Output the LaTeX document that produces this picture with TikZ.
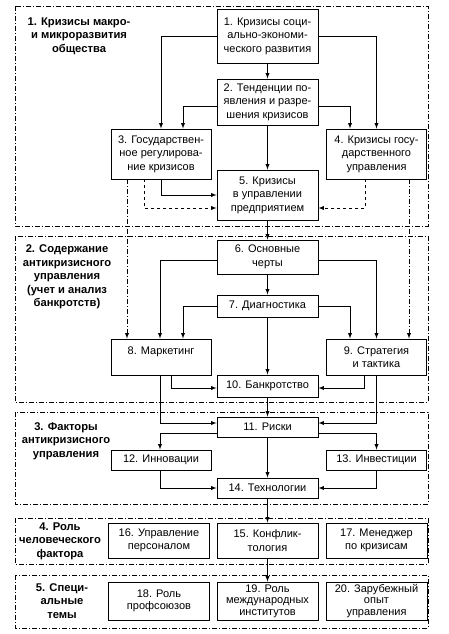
\documentclass[tikz,border=0pt]{standalone}
\usepackage{fontspec}
\setmainfont{Liberation Sans}
\usetikzlibrary{shapes, arrows, positioning}

\tikzset{
  box/.style={rectangle, draw, line width=0.9pt, align=center, inner sep=1pt,
    font=\fontsize{11}{13.5}\selectfont},
  sect/.style={line width=0.7pt, dash pattern=on 5pt off 2pt on 1pt off 2pt},
  lab/.style={align=center, font=\bfseries\fontsize{11.2}{13.5}\selectfont},
  arr/.style={->, >=latex, line width=0.9pt},
}

\begin{document}
\begin{tikzpicture}[x=1pt, y=-1pt]
    \useasboundingbox (0,0) rectangle (449,634);

    % sections
    \draw[sect] (15,6) rectangle (428,226);
    \draw[sect] (15,236) rectangle (428,402);
    \draw[sect] (15,412) rectangle (428,504);
    \draw[sect] (15,518) rectangle (428,564);
    \draw[sect] (15,575) rectangle (428,628);

    \node (L1) [lab] at (79,36) {1. Кризисы макро-\\и микроразвития\\общества};
    \node (L2) [lab] at (67,277) {2. Содержание\\антикризисного\\управления\\(учет и анализ\\банкротств)};
    \node (L3) [lab] at (66,441) {3. Факторы\\антикризисного\\управления};
    \node (L4) [lab] at (60,541) {4. Роль\\человеческого\\фактора};
    \node (L5) [lab] at (62,601) {5. Специ-\\альные\\темы};

    % boxes
    \node (b1) [box, minimum width=101pt, minimum height=54pt] at (267.5,36) {1. Кризисы соци-\\ально-экономи-\\ческого развития};
    \node (b2) [box, minimum width=101pt, minimum height=46pt] at (267.5,102) {2. Тенденции по-\\явления и разре-\\шения кризисов};
    \node (b3) [box, minimum width=100pt, minimum height=50pt] at (161,154) {3. Государствен-\\ное регулирова-\\ние кризисов};
    \node (b4) [box, minimum width=100pt, minimum height=50pt] at (376.5,154) {4. Кризисы госу-\\дарственного\\управления};
    \node (b5) [box, minimum width=101pt, minimum height=50pt] at (267.5,195) {5. Кризисы\\в управлении\\предприятием};
    \node (b6) [box, minimum width=101pt, minimum height=34pt] at (267.5,257) {6. Основные\\черты};
    \node (b7) [box, minimum width=101pt, minimum height=22pt] at (267.5,306) {7. Диагностика};
    \node (b8) [box, minimum width=100pt, minimum height=36pt] at (161,357) {8. Маркетинг\\~};
    \node (b9) [box, minimum width=100pt, minimum height=36pt] at (376.5,357) {9. Стратегия\\и тактика};
    \node (b10) [box, minimum width=101pt, minimum height=22pt] at (267.5,386) {10. Банкротство};
    \node (b11) [box, minimum width=101pt, minimum height=20pt] at (267.5,427) {11. Риски};
    \node (b12) [box, minimum width=100pt, minimum height=20pt] at (161,460) {12. Инновации};
    \node (b13) [box, minimum width=100pt, minimum height=20pt] at (376.5,460) {13. Инвестиции};
    \node (b14) [box, minimum width=101pt, minimum height=20pt] at (267.5,488) {14. Технологии};
    \node (b16) [box, minimum width=101pt, minimum height=35pt] at (159,540.5) {16. Управление\\персоналом};
    \node (b15) [box, minimum width=101pt, minimum height=35pt] at (267.5,540.5) {15. Конфлик-\\тология};
    \node (b17) [box, minimum width=101pt, minimum height=35pt] at (376.5,540.5) {17. Менеджер\\по кризисам};
    \node (b18) [box, minimum width=101pt, minimum height=38pt, font=\fontsize{11}{12}\selectfont] at (159,601) {18. Роль\\профсоюзов};
    \node (b19) [box, minimum width=101pt, minimum height=38pt, font=\fontsize{11}{11.5}\selectfont] at (267.5,601) {19. Роль\\международных\\институтов};
    \node (b20) [box, minimum width=101pt, minimum height=38pt, font=\fontsize{11}{11.5}\selectfont] at (376.5,601) {20. Зарубежный\\опыт\\управления};

    % section 1
    \draw[arr] (b1) -- (b2);
    \draw[arr] (b1.west) -| (b3.north);
    \draw[arr] (b1.east) -| (b4.north);
    \draw[arr] (b2.west |- 0,106) -| (b3.north -| 183,0);
    \draw[arr] (b2.east |- 0,106) -| (b4.north -| 350,0);
    \draw[arr] (b2) -- (b5);
    \draw[arr] (b3.south) |- (b5.west);
    \draw[arr, dashed] (b3.south -| 144,0) |- (b5.west |- 0,208);
    \draw[arr, dashed] (b4.south -| 365,0) |- (b5.east |- 0,208);
    \draw[arr, sect, line width=0.9pt] (b3.south -| 127,0) -- (b8.north -| 127,0);
    \draw[arr, sect, line width=0.9pt] (b4.south -| 409,0) -- (b9.north -| 409,0);

    % section 2
    \draw[arr] (b5) -- (b6);
    \draw[arr] (b6.west |- 0,260) -| (b8.north -| 160,0);
    \draw[arr] (b6.east |- 0,260) -| (b9.north);
    \draw[arr] (b6) -- (b7);
    \draw[arr] (b7.west) -| (b8.north -| 183,0);
    \draw[arr] (b7.east) -| (b9.north -| 350,0);
    \draw[arr] (b7) -- (b10);
    \draw[arr] (b8.south -| 171,0) |- (b10.west |- 0,388);
    \draw[arr] (b9.south -| 364,0) |- (b10.east |- 0,388);

    % section 3
    \draw[arr] (b8.south -| 160,0) |- (b11.west |- 0,423);
    \draw[arr] (b9.south) |- (b11.east |- 0,423);
    \draw[arr] (b10) -- (b11);
    \draw[arr] (b11.west |- 0,433) -| (b12.north -| 160,0);
    \draw[arr] (b11.east |- 0,433) -| (b13.north);
    \draw[arr] (b11) -- (b14);
    \draw[arr] (b12.south -| 160,0) |- (b14.west);
    \draw[arr] (b13.south) |- (b14.east);

    % sections 4 and 5
    \draw[arr] (b14) -- (b15);
    \draw[arr] (b15) -- (b19);
\end{tikzpicture}
\end{document}
